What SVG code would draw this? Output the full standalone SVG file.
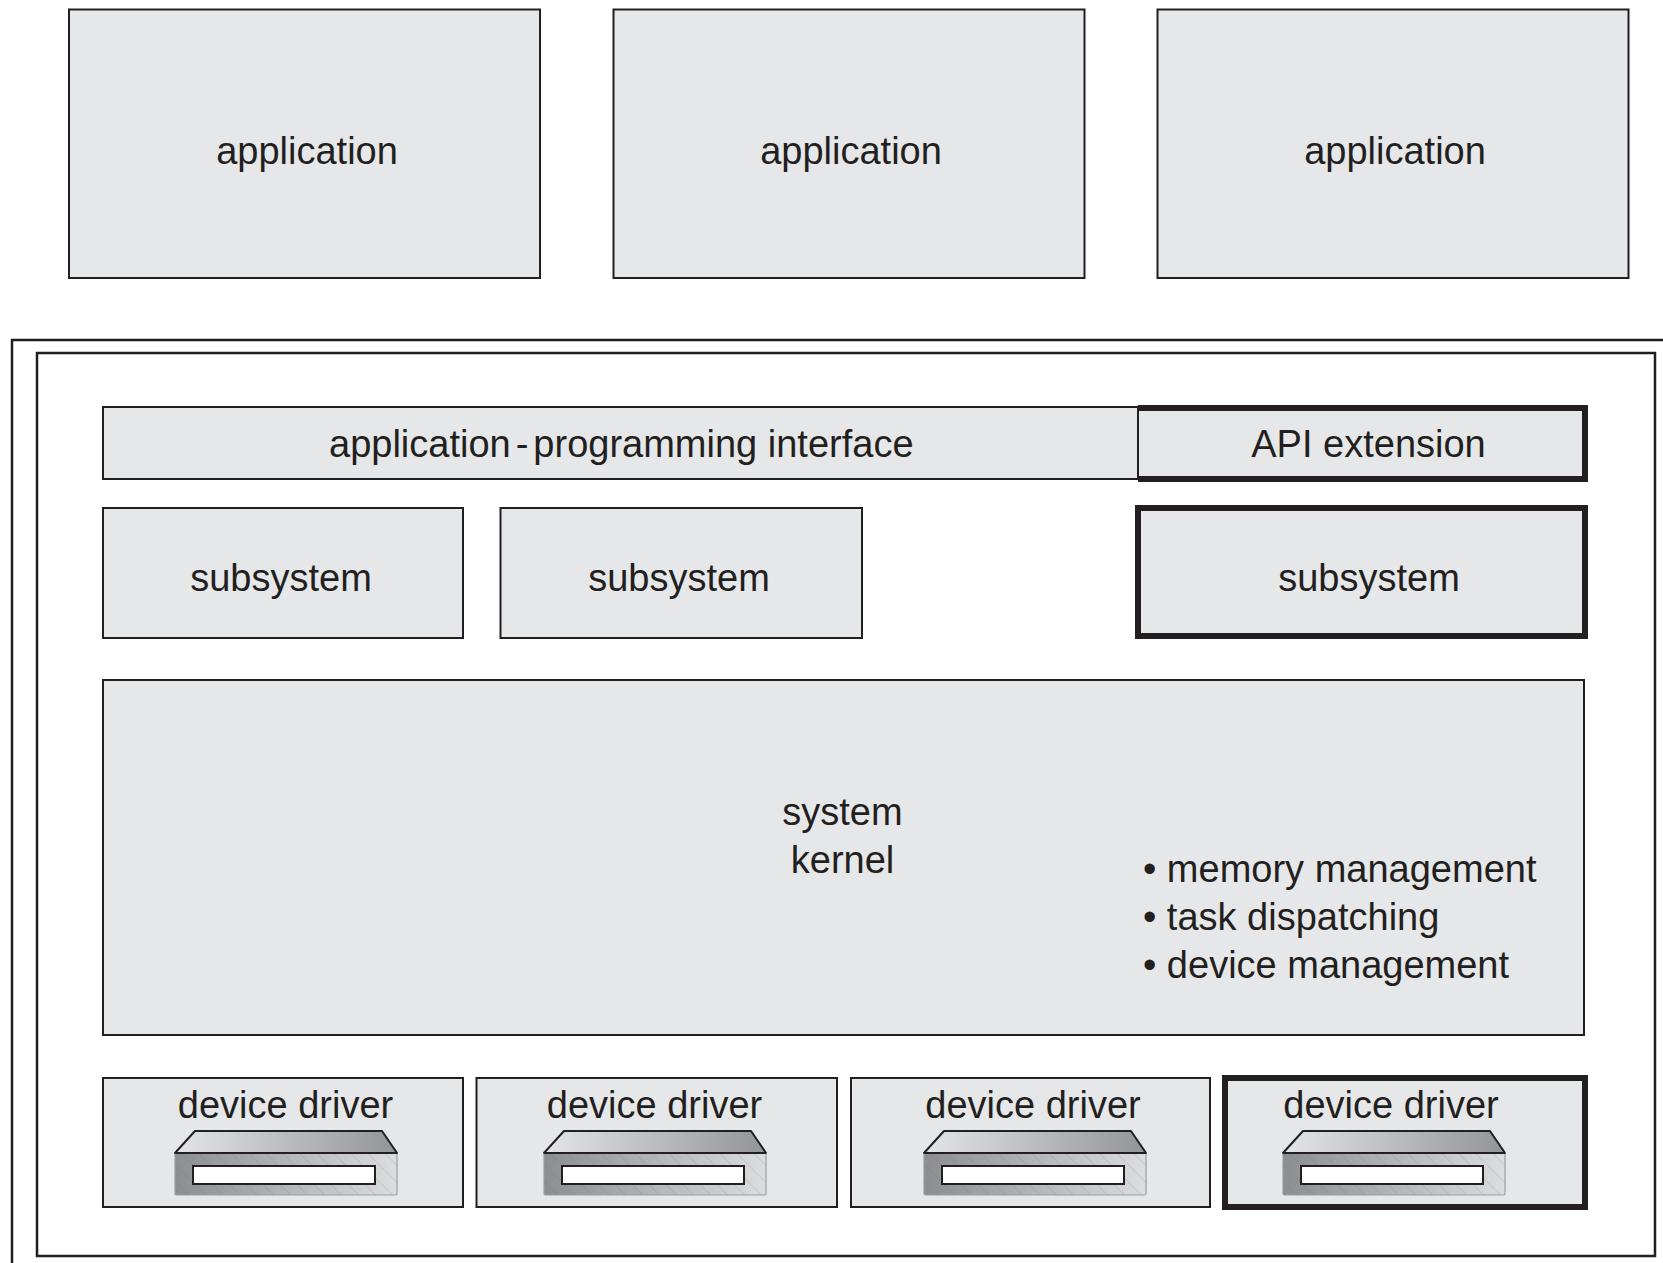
<svg xmlns="http://www.w3.org/2000/svg" xmlns:xlink="http://www.w3.org/1999/xlink" width="1663" height="1263" viewBox="0 0 1663 1263">
  <style>
    .box { fill: #e6e7e8; stroke: #231f20; stroke-width: 2; }
    .thick { fill: #e6e7e8; stroke: #231f20; stroke-width: 6; stroke-linejoin: miter; }
    .frame { fill: none; stroke: #231f20; stroke-width: 2.5; }
    .lbl { font-family: "Liberation Sans", Arial, Helvetica, sans-serif; font-size: 38px; fill: #231f20; }
    .mid { text-anchor: middle; }
  </style>
  <defs>
    <linearGradient id="gTop" x1="0" y1="0" x2="1" y2="0">
      <stop offset="0" stop-color="#e4e5e6"/>
      <stop offset="1" stop-color="#939496"/>
    </linearGradient>
    <linearGradient id="gFront" x1="0" y1="0" x2="1" y2="0">
      <stop offset="0" stop-color="#8c8d8f"/>
      <stop offset="0.5" stop-color="#b4b5b7"/>
      <stop offset="1" stop-color="#dcdddf"/>
    </linearGradient>
    <pattern id="hatch" width="12" height="12" patternUnits="userSpaceOnUse" patternTransform="rotate(-45)">
      <line x1="0" y1="0" x2="0" y2="12" stroke="#6d6e70" stroke-width="1" stroke-opacity="0.35"/>
    </pattern>
    <g id="drive">
      <path d="M0,22 L20,0 H207 L222,22 Z" fill="url(#gTop)" stroke="#231f20" stroke-width="2" stroke-linejoin="round"/>
      <rect x="0" y="22" width="222" height="42" rx="1.5" fill="url(#gFront)" stroke="#9c9d9f" stroke-width="1.2"/>
      <rect x="0" y="22" width="222" height="42" fill="url(#hatch)"/>
      <line x1="0" y1="22" x2="222" y2="22" stroke="#231f20" stroke-width="2"/>
      <rect x="18" y="35" width="182" height="18" fill="#ffffff" stroke="#231f20" stroke-width="2"/>
    </g>
  </defs>

  <rect width="1663" height="1263" fill="#ffffff"/>

  <g id="app1">
    <rect class="box" x="69" y="9.5" width="471" height="268.5"/>
    <text class="lbl mid" x="307" y="164">application</text>
  </g>
  <g id="app2">
    <rect class="box" x="613.5" y="9.5" width="471" height="268.5"/>
    <text class="lbl mid" x="851" y="164">application</text>
  </g>
  <g id="app3">
    <rect class="box" x="1157.5" y="9.5" width="471" height="268.5"/>
    <text class="lbl mid" x="1395" y="164">application</text>
  </g>

  <g id="outer-frame">
    <path class="frame" d="M12,1263 V340 H1663"/>
  </g>
  <g id="inner-frame">
    <rect class="frame" x="37" y="353" width="1618" height="903" stroke-width="2.2"/>
  </g>

  <g id="api">
    <rect class="box" x="103" y="407" width="1035" height="72"/>
    <text class="lbl" x="329" y="457">application<tspan dx="5">-</tspan><tspan dx="5">programming interface</tspan></text>
  </g>
  <g id="api-extension">
    <rect class="box" x="1138" y="408" width="447" height="71" stroke="none"/>
    <path d="M1138,408 H1585 V479 H1138" fill="none" stroke="#231f20" stroke-width="6"/>
    <line x1="1138" y1="407" x2="1138" y2="479" stroke="#231f20" stroke-width="2"/>
    <text class="lbl mid" x="1368.5" y="457">API extension</text>
  </g>

  <g id="subsystem1">
    <rect class="box" x="103" y="508" width="360" height="130"/>
    <text class="lbl mid" x="281" y="591">subsystem</text>
  </g>
  <g id="subsystem2">
    <rect class="box" x="500.5" y="508" width="361.5" height="130"/>
    <text class="lbl mid" x="679" y="591">subsystem</text>
  </g>
  <g id="subsystem3">
    <rect class="thick" x="1138" y="508" width="447" height="128"/>
    <text class="lbl mid" x="1369" y="591">subsystem</text>
  </g>

  <g id="kernel">
    <rect class="box" x="103" y="680" width="1481" height="355"/>
    <text class="lbl mid" x="842.5" y="825">system</text>
    <text class="lbl mid" x="842.5" y="873">kernel</text>
    <text class="lbl" x="1143" y="882">• memory management</text>
    <text class="lbl" x="1143" y="930">• task dispatching</text>
    <text class="lbl" x="1143" y="978">• device management</text>
  </g>

  <g id="driver1">
    <rect class="box" x="103" y="1078" width="360" height="129"/>
    <text class="lbl mid" x="285.5" y="1118">device driver</text>
    <use xlink:href="#drive" href="#drive" transform="translate(175,1131)"/>
  </g>
  <g id="driver2">
    <rect class="box" x="476.5" y="1078" width="360.5" height="129"/>
    <text class="lbl mid" x="654.5" y="1118">device driver</text>
    <use xlink:href="#drive" href="#drive" transform="translate(544,1131)"/>
  </g>
  <g id="driver3">
    <rect class="box" x="851" y="1078" width="359" height="129"/>
    <text class="lbl mid" x="1033" y="1118">device driver</text>
    <use xlink:href="#drive" href="#drive" transform="translate(924,1131)"/>
  </g>
  <g id="driver4">
    <rect class="thick" x="1225" y="1078" width="360" height="129"/>
    <text class="lbl mid" x="1391" y="1118">device driver</text>
    <use xlink:href="#drive" href="#drive" transform="translate(1283,1131)"/>
  </g>

  <g id="connectors"></g>
</svg>
